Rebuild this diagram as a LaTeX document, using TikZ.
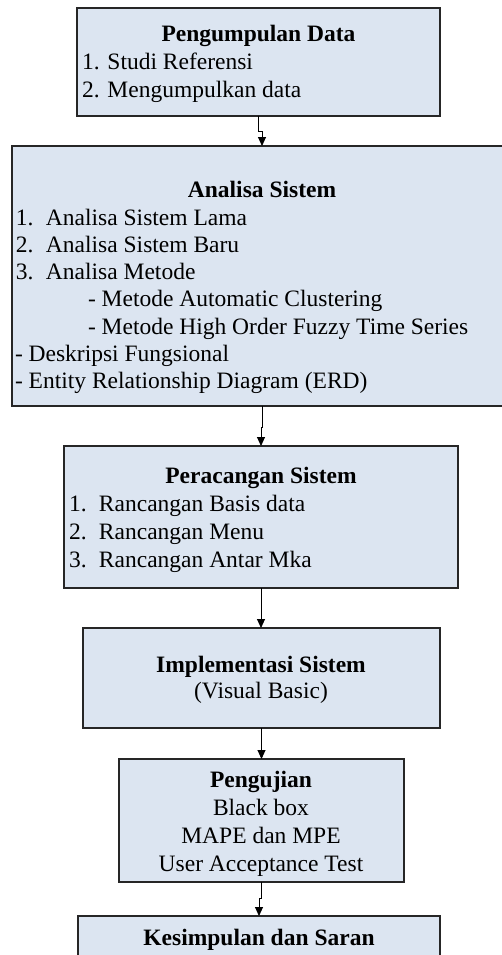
\documentclass[tikz,border=0pt]{standalone}
\usepackage{fontspec}
\setmainfont{Liberation Serif}
\usetikzlibrary{arrows.meta}
\definecolor{boxfill}{HTML}{DCE5F1}
\definecolor{boxline}{HTML}{262626}
\tikzset{
  stage/.style={draw=boxline, fill=boxfill, line width=1.1pt, rectangle,
    inner sep=0pt, outer sep=0pt, anchor=north west},
  txt/.style={inner sep=0pt, outer sep=0pt, font=\fontsize{23.5}{27.5}\selectfont},
  ttl/.style={txt, font=\fontsize{23.5}{27.5}\selectfont\bfseries, anchor=base},
  item/.style={txt, anchor=base west},
  mid/.style={txt, anchor=base},
  flow/.style={draw=black, line width=0.9pt, -{Triangle[length=9pt,width=8pt]}}
}
\newcommand{\num}[1]{\makebox[30pt][l]{#1}}
\begin{document}
\begin{tikzpicture}[x=1pt,y=-1pt]
  \useasboundingbox (0,0) rectangle (502,955);
  \clip (0,0) rectangle (502,955);

  % process stages
  \node[stage, minimum width=363pt, minimum height=108pt] (b1) at (77,8) {};
  \node[stage, minimum width=500pt, minimum height=260pt] (b2) at (12,146) {};
  \node[stage, minimum width=394pt, minimum height=142pt] (b3) at (64,446) {};
  \node[stage, minimum width=357pt, minimum height=100pt] (b4) at (83,628) {};
  \node[stage, minimum width=285pt, minimum height=123pt] (b5) at (119,759) {};
  \node[stage, minimum width=362pt, minimum height=70pt] (b6) at (78,916) {};

  % Pengumpulan Data
  \node[ttl] (t1) at (258.5,42) {Pengumpulan Data};
  \node[item] (t1a) at (82,70) {1. Studi Referensi};
  \node[item] (t1b) at (82,98) {2. Mengumpulkan data};

  % Analisa Sistem
  \node[ttl] (t2) at (262,197) {Analisa Sistem};
  \node[item] (t2a) at (16,225) {\num{1.}Analisa Sistem Lama};
  \node[item] (t2b) at (16,252.3) {\num{2.}Analisa Sistem Baru};
  \node[item] (t2c) at (16,279.6) {\num{3.}Analisa Metode};
  \node[item] (t2d) at (88,306.9) {- Metode Automatic Clustering};
  \node[item] (t2e) at (88,334.2) {- Metode High Order Fuzzy Time Series};
  \node[item] (t2f) at (15,361.5) {- Deskripsi Fungsional};
  \node[item] (t2g) at (15,388.8) {- Entity Relationship Diagram (ERD)};

  % Peracangan Sistem
  \node[ttl] (t3) at (261,483) {Peracangan Sistem};
  \node[item] (t3a) at (69,511) {\num{1.}Rancangan Basis data};
  \node[item] (t3b) at (69,539) {\num{2.}Rancangan Menu};
  \node[item] (t3c) at (69,567) {\num{3.}Rancangan Antar Mka};

  % Implementasi Sistem
  \node[ttl] (t4) at (261,672) {Implementasi Sistem};
  \node[mid] (t4a) at (261,698) {(Visual Basic)};

  % Pengujian
  \node[ttl] (t5) at (261,787) {Pengujian};
  \node[mid] (t5a) at (261,815) {Black box};
  \node[mid] (t5b) at (261,843) {MAPE dan MPE};
  \node[mid] (t5c) at (261,871) {User Acceptance Test};

  % Kesimpulan dan Saran
  \node[ttl] (t6) at (259,945) {Kesimpulan dan Saran};

  % connectors
  \draw[flow] (b1.south) -- ++(0,15) -| (b2.north);
  \draw[flow] (b2.south) -- ++(0,21) -| (b3.north);
  \draw[flow] (b3.south) -- (b3.south |- b4.north);
  \draw[flow] (b4.south) -- (b5.north);
  \draw[flow] (b5.south) -- ++(0,16) -| (b6.north);
\end{tikzpicture}
\end{document}
